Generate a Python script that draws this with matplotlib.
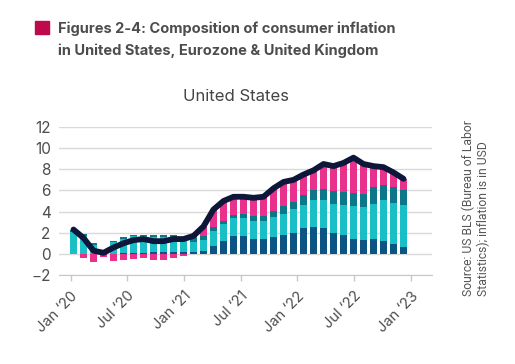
import numpy as np
import matplotlib
matplotlib.use('Agg')
import matplotlib.pyplot as plt
from matplotlib.patches import Rectangle

plt.rcParams['font.family'] = ['Inter', 'DejaVu Sans']

# US CPI, Feb 2020 - Nov 2022, contributions in percentage points
months = ['Feb 20', 'Mar 20', 'Apr 20', 'May 20', 'Jun 20', 'Jul 20', 'Aug 20', 'Sep 20',
          'Oct 20', 'Nov 20', 'Dec 20', 'Jan 21', 'Feb 21', 'Mar 21', 'Apr 21', 'May 21',
          'Jun 21', 'Jul 21', 'Aug 21', 'Sep 21', 'Oct 21', 'Nov 21', 'Dec 21', 'Jan 22',
          'Feb 22', 'Mar 22', 'Apr 22', 'May 22', 'Jun 22', 'Jul 22', 'Aug 22', 'Sep 22',
          'Oct 22', 'Nov 22']
dark_blue = [0, 0, 0, 0, 0, 0.05, 0.05, 0.1, 0.15, 0.2, 0.2, 0.2, 0.2, 0.3, 0.75, 1.2,
             1.65, 1.65, 1.45, 1.4, 1.6, 1.8, 2.0, 2.4, 2.55, 2.4, 2.0, 1.75, 1.45, 1.35,
             1.45, 1.2, 0.9, 0.65]
cyan = [2.1, 1.65, 0.85, 0.3, 1.1, 1.4, 1.6, 1.55, 1.45, 1.4, 1.4, 1.2, 0.95, 0.97, 1.45,
        1.65, 1.75, 1.7, 1.65, 1.7, 1.9, 2.0, 2.2, 2.25, 2.5, 2.65, 2.75, 2.85, 3.05, 3.05,
        3.3, 3.85, 3.9, 3.95]
teal = [0.2, 0.2, 0.15, 0.05, 0.15, 0.15, 0.15, 0.15, 0.15, 0.15, 0.2, 0.2, 0.35, 0.43,
        0.3, 0.25, 0.3, 0.45, 0.45, 0.5, 0.6, 0.7, 0.7, 0.9, 0.95, 1.1, 1.2, 1.25, 1.3,
        1.3, 1.55, 1.45, 1.5, 1.4]
pink = [0, -0.35, -0.75, -0.25, -0.65, -0.6, -0.5, -0.4, -0.55, -0.55, -0.4, -0.2, 0.2,
        0.9, 1.7, 1.9, 1.7, 1.6, 1.75, 1.8, 2.1, 2.3, 2.1, 1.95, 1.9, 2.35, 2.35, 2.75,
        3.3, 2.8, 2.0, 1.7, 1.4, 1.1]
headline = [2.3, 1.5, 0.3, 0.1, 0.6, 1.0, 1.3, 1.4, 1.2, 1.2, 1.4, 1.4, 1.7, 2.6, 4.2,
            5.0, 5.4, 5.4, 5.3, 5.4, 6.2, 6.8, 7.0, 7.5, 7.9, 8.5, 8.3, 8.6, 9.1, 8.5, 8.3,
            8.2, 7.7, 7.1]
tick_labels = ['Jan \u201820', 'Jul \u201820', 'Jan \u201821', 'Jul \u201821',
               'Jan \u201822', 'Jul \u201822', 'Jan \u201823']

c_blue = '#0b5483'
c_cyan = '#19bfc6'
c_teal = '#0b7789'
c_pink = '#e8308c'
c_line = '#0e1639'
grey = '#4d4d4f'

fig = plt.figure(figsize=(5.15, 3.64), dpi=100)
ax = fig.add_axes([0.1146, 0.2445, 0.7242, 0.4066])

x = np.arange(len(months))
w = 0.63
b1 = np.array(dark_blue)
b2 = b1 + np.array(cyan)
b3 = b2 + np.array(teal)
pk = np.array(pink)
ax.bar(x, b1, w, color=c_blue, zorder=2)
ax.bar(x, cyan, w, bottom=b1, color=c_cyan, zorder=2)
ax.bar(x, teal, w, bottom=b2, color=c_teal, zorder=2)
ax.bar(x, pk, w, bottom=np.where(pk > 0, b3, 0), color=c_pink, zorder=2)
ax.plot(x, headline, color=c_line, lw=4.2, solid_joinstyle='round',
        solid_capstyle='round', zorder=3)

ax.set_ylim(-2, 12)
ax.set_xlim(-1.45, 35.85)
ax.set_yticks(range(-2, 13, 2))
ax.yaxis.grid(True, color='#d9d9d9', lw=1, zorder=0)
ax.tick_params(axis='y', length=0, pad=6, labelsize=11, labelcolor=grey)
ax.set_xticks(np.arange(0, 37, 6) * 0.9445 - 0.28)
ax.set_xticklabels(tick_labels, rotation=45, ha='right', rotation_mode='anchor')
ax.tick_params(axis='x', length=4, width=1, color='#c8c8c8', labelsize=10.5,
               labelcolor=grey, pad=6)
for s in ['top', 'right', 'left']:
    ax.spines[s].set_visible(False)
ax.spines['bottom'].set_color('#c8c8c8')

fig.text(0.458, 0.735, 'United States', ha='center', va='center', fontsize=12, color='#444444')

fig.patches.append(Rectangle((35 / 515, 1 - 34 / 364), 14 / 515, 13 / 364,
                             transform=fig.transFigure, color='#c0094c'))
fig.text(58 / 515, 1 - 33 / 364, 'Figures 2-4: Composition of consumer inflation',
         fontsize=10.5, fontweight='bold', color=grey, va='baseline')
fig.text(58 / 515, 1 - 55 / 364, 'in United States, Eurozone & United Kingdom',
         fontsize=10.5, fontweight='bold', color=grey, va='baseline')

fig.text(476 / 515, 1 - 296 / 364, 'Source: US BLS (Bureau of Labor\nStatistics); inflation is in USD',
         rotation=90, ha='center', va='bottom', multialignment='left',
         fontsize=8.7, color='#555555', family=['Roboto', 'DejaVu Sans'])

fig.savefig('out.png', dpi=100)
